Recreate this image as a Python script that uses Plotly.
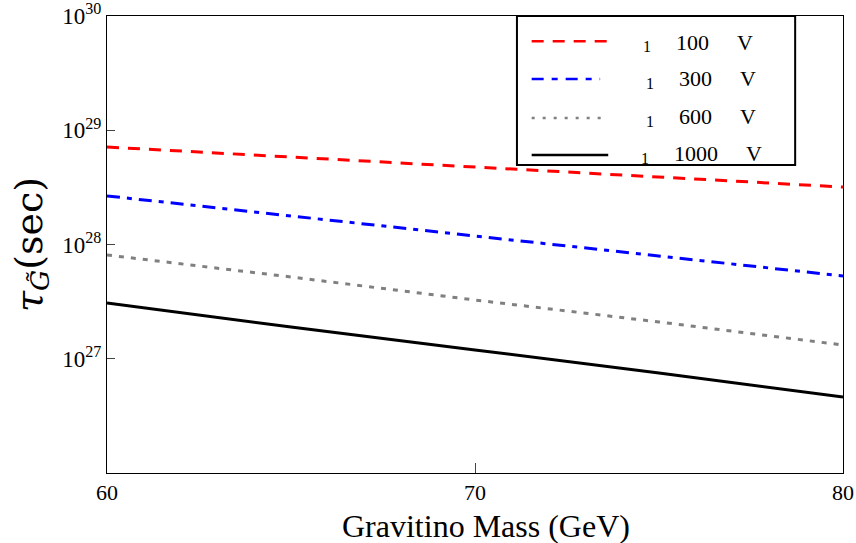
import plotly.graph_objects as go

mass = [60, 65, 70, 75, 80]
# log10 of lifetime (sec)
log_tau_100 = [28.853, 28.766, 28.678, 28.591, 28.503]
log_tau_300 = [28.425, 28.249, 28.074, 27.899, 27.724]
log_tau_600 = [27.908, 27.716, 27.514, 27.322, 27.120]
log_tau_1000 = [27.488, 27.278, 27.077, 26.875, 26.665]

series_labels = ["100", "300", "600", "1000"]
series_colors = ["#ff0000", "#0000ff", "#808080", "#000000"]
series_dash = ["12px,9px", "13px,7px,5px,7px", "5px,7px", "solid"]
legend_dash = ["12px,9px", "12px,8px,6px,8px", "3px,8px", "solid"]
series_data = [log_tau_100, log_tau_300, log_tau_600, log_tau_1000]

ytick_vals = [1e27, 1e28, 1e29, 1e30]
ytick_text = ["10<sup>27</sup>", "10<sup>28</sup>", "10<sup>29</sup>", "10<sup>30</sup>"]
xtick_vals = [60, 70, 80]

FONT = "Liberation Serif"
TITLE_FONT = "DejaVu Serif"

fig = go.Figure()
for lab, col, dsh, d in zip(series_labels, series_colors, series_dash, series_data):
    fig.add_trace(go.Scatter(
        x=mass, y=[10 ** v for v in d], mode="lines",
        line=dict(color=col, width=3, dash=dsh), name=lab, showlegend=False))

# manual legend (paper coordinates)
line_y = [0.945, 0.862, 0.777, 0.696]
line_x1 = [0.681, 0.670, 0.681, 0.681]
sub_x = [0.734, 0.738, 0.738, 0.731]
sub_y = [0.934, 0.853, 0.770, 0.689]
lab_x = [0.795, 0.799, 0.799, 0.800]
lab_y = [0.943, 0.864, 0.779, 0.700]
unit_x = [0.867, 0.871, 0.871, 0.879]

fig.add_shape(type="rect", xref="paper", yref="paper", x0=0.557, x1=0.935, y0=0.674, y1=1.0,
              line=dict(color="black", width=2), fillcolor="white", layer="above")
for i, (lab, col, dsh) in enumerate(zip(series_labels, series_colors, legend_dash)):
    fig.add_shape(type="line", xref="paper", yref="paper", x0=0.577, x1=line_x1[i],
                  y0=line_y[i], y1=line_y[i], line=dict(color=col, width=2.5, dash=dsh), layer="above")
    fig.add_annotation(xref="paper", yref="paper", x=sub_x[i], y=sub_y[i],
                       xanchor="center", yanchor="middle", text="1",
                       showarrow=False, font=dict(family=FONT, size=16, color="black"))
    fig.add_annotation(xref="paper", yref="paper", x=lab_x[i], y=lab_y[i],
                       xanchor="center", yanchor="middle", text=lab,
                       showarrow=False, font=dict(family=FONT, size=22, color="black"))
    fig.add_annotation(xref="paper", yref="paper", x=unit_x[i], y=lab_y[i],
                       xanchor="center", yanchor="middle", text="V",
                       showarrow=False, font=dict(family=FONT, size=22, color="black"))

# x-axis title as annotation (slightly right of centre, as in the reference)
fig.add_annotation(xref="paper", yref="paper", x=0.515, y=-0.116, xanchor="center",
                   yanchor="middle", text="Gravitino Mass (GeV)", showarrow=False,
                   font=dict(family=FONT, size=32, color="black"))

fig.update_layout(
    width=856, height=543,
    margin=dict(l=107, r=13, t=16, b=70),
    plot_bgcolor="white", paper_bgcolor="white",
    font=dict(family=FONT, size=18, color="black"),
    xaxis=dict(range=[60, 80], tickvals=xtick_vals, ticks="inside", ticklen=10,
               showline=True, linecolor="black", linewidth=1, mirror=True,
               showgrid=False, zeroline=False, automargin=False,
               ticklabeloverflow="allow",
               tickfont=dict(family=FONT, size=22)),
    yaxis=dict(type="log", range=[26, 30], tickvals=ytick_vals, ticktext=ytick_text,
               ticks="inside", ticklen=8, showline=True, linecolor="black", linewidth=1,
               mirror=True, showgrid=False, zeroline=False, automargin=False,
               ticklabeloverflow="allow",
               title=dict(text="<i>τ</i><sub><i>G̃</i></sub>(sec)",
                          font=dict(family=TITLE_FONT, size=38), standoff=8),
               tickfont=dict(family=FONT, size=23)),
)

fig.write_html("out.html")
